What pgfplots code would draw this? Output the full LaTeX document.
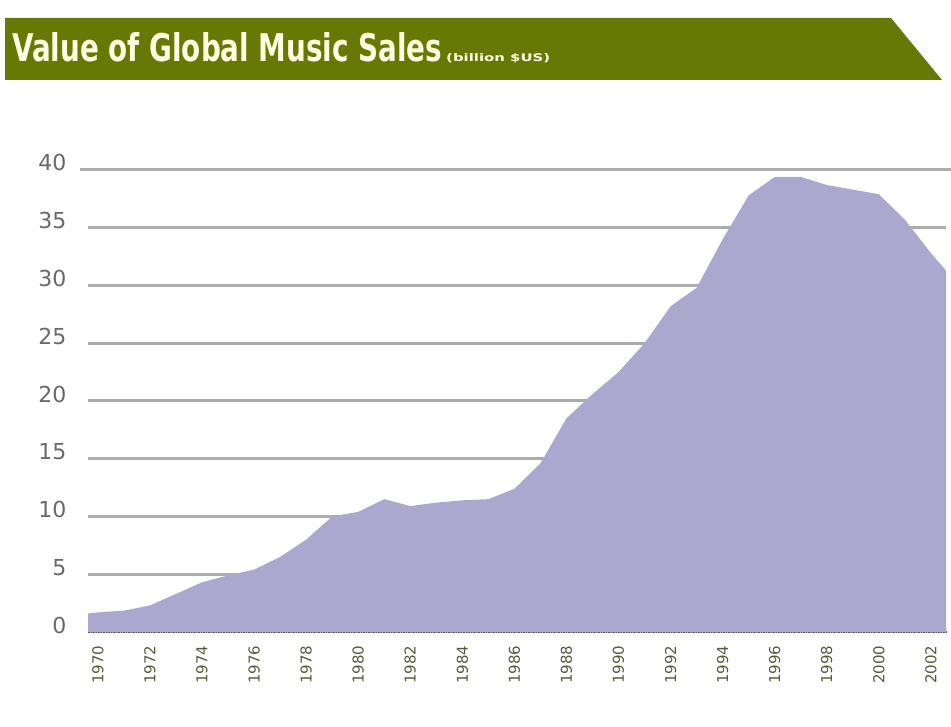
\documentclass[border=0pt]{standalone}
\usepackage{pgfplots}
\pgfplotsset{compat=1.18}
\usepackage{fontspec}
\setmainfont{DejaVu Sans}
\definecolor{olivebar}{RGB}{102,121,4}
\definecolor{areacol}{RGB}{172,167,206}
\definecolor{gridcol}{RGB}{172,172,172}
\definecolor{ticktxt}{RGB}{105,105,105}
\definecolor{xtxt}{RGB}{85,92,60}
\definecolor{titletxt}{RGB}{255,255,225}
\begin{document}
\begin{tikzpicture}[x=1pt,y=1pt]
\useasboundingbox (0,0) rectangle (951,727);
\fill[olivebar] (5,709) -- (891,709) -- (942,647) -- (5,647) -- cycle;
\node[anchor=base west, inner sep=0, text=titletxt] at (12,665) {\resizebox{430pt}{29pt}{\bfseries Value of Global Music Sales}};
\node[anchor=base west, inner sep=0, text=titletxt] at (446,665) {\resizebox{104pt}{8pt}{\bfseries (billion \$US)}};
\begin{axis}[
  at={(88pt,95pt)}, anchor=south west,
  scale only axis, width=858pt, height=462pt,
  xmin=1969.62, xmax=2002.58, ymin=0, ymax=40,
  ytick={0,5,...,40},
  xtick={1970,1972,...,2002},
  xticklabels={1970,1972,1974,1976,1978,1980,1982,1984,1986,1988,1990,1992,1994,1996,1998,2000,2002},
  ymajorgrids,
  major grid style={gridcol, line width=3pt, shorten <=-8pt, shorten >=-5pt},
  axis lines*=left,
  y axis line style={draw=none},
  x axis line style={black!65, densely dotted, line width=1.5pt},
  major tick length=0pt,
  tick style={draw=none},
  /pgf/number format/assume math mode=true,
  yticklabel style={font=\fontsize{22}{22}\selectfont, text=ticktxt, xshift=-18pt, yshift=7pt},
  xticklabel style={rotate=90, anchor=east, font=\fontsize{15}{15}\selectfont, text=xtxt, xshift=-10pt},
]
\addplot[fill=areacol, draw=none] table {
x y
1969.62 1.6
1970 1.7
1971 1.85
1972 2.3
1973 3.3
1974 4.3
1975 4.9
1976 5.4
1977 6.5
1978 8.0
1979 10.0
1980 10.4
1981 11.5
1982 10.9
1983 11.2
1984 11.4
1985 11.5
1986 12.4
1987 14.6
1988 18.5
1989 20.6
1990 22.5
1991 25.0
1992 28.2
1993 29.8
1994 34.0
1995 37.8
1996 39.4
1997 39.4
1998 38.7
1999 38.3
2000 37.9
2001 35.7
2002 32.8
2002.58 31.3
} \closedcycle;
\end{axis}
\end{tikzpicture}
\end{document}
